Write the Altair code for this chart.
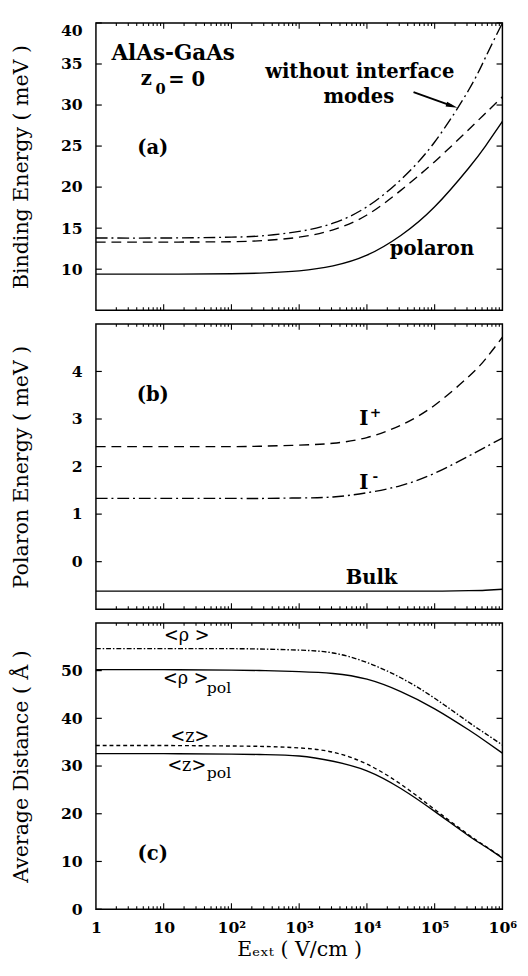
import altair as alt
import pandas as pd

FONT = "DejaVu Serif"
W = 416
H_A, H_B, H_C = 294, 292, 293

# ---------------- data ----------------
E_GRID = [1, 10, 100, 316.2, 1000, 3162, 10000, 31620, 100000, 316200, 562300, 1000000]

# panel (a) binding energy (meV)
A_POLARON = [9.4, 9.4, 9.45, 9.55, 9.8, 10.4, 11.7, 14.1, 17.6, 22.3, 25.0, 28.0]
A_DASHED = [13.3, 13.3, 13.35, 13.5, 13.9, 14.8, 16.6, 19.6, 23.1, 27.0, 29.0, 31.0]
A_DASHDOT = [13.8, 13.8, 13.9, 14.1, 14.6, 15.6, 17.6, 20.9, 25.5, 31.8, 35.8, 40.0]

# panel (b) polaron energy (meV)
B_IPLUS = [2.42, 2.42, 2.42, 2.43, 2.45, 2.49, 2.61, 2.87, 3.29, 3.89, 4.26, 4.72]
B_IMINUS = [1.33, 1.33, 1.33, 1.33, 1.34, 1.36, 1.45, 1.60, 1.86, 2.22, 2.41, 2.60]
B_BULK = [-0.62, -0.62, -0.62, -0.62, -0.62, -0.62, -0.62, -0.62, -0.62, -0.61, -0.60, -0.58]

# panel (c) average distance (A)
C_RHO = [54.6, 54.6, 54.6, 54.5, 54.3, 53.7, 51.7, 48.5, 44.2, 39.2, 36.8, 34.4]
C_RHO_POL = [50.2, 50.2, 50.1, 50.0, 49.8, 49.4, 48.2, 45.6, 42.0, 37.6, 35.2, 32.7]
C_Z = [34.3, 34.3, 34.2, 34.1, 33.8, 32.9, 30.4, 26.2, 20.9, 15.6, 13.2, 10.8]
C_Z_POL = [32.6, 32.6, 32.5, 32.4, 32.1, 31.0, 29.0, 25.3, 20.5, 15.4, 13.1, 10.7]

X_TICKS = [1, 10, 100, 1000, 10000, 100000, 1000000]
X_TICK_LABELS = ["1", "10", "10²", "10³", "10⁴", "10⁵", "10⁶"]
X_MAJOR_INNER = [10, 100, 1000, 10000, 100000]
X_MINOR = [m * 10 ** k for k in range(6) for m in range(2, 10)]

A_YTICKS = [10, 15, 20, 25, 30, 35, 40]
B_YTICKS = [0, 1, 2, 3, 4]
C_YTICKS = [0, 10, 20, 30, 40, 50]

# line styles
SOLID = None
DASHED = [10, 6]
DASHDOT = [12, 4, 2, 4]
FINE_DASHDOT = [5, 2, 1.5, 2]
FINE_DASHED = [4, 3]

# annotations: label, E, value
ANN_A_BIG = [("without interface", 7840, 33.95), ("modes", 7590, 31.0),
             ("polaron", 91200, 12.4), ("(a)", 6.9, 24.8)]
ANN_A_TITLE = [("AlAs-GaAs", 13.8, 36.3)]
ANN_A_LEFT = [("z", 4.6, 33.1), ("= 0", 11.7, 33.0)]
ANN_A_SUB = [("0", 7.6, 31.9)]
ARROW_E = [48750, 179700]
ARROW_V = [31.58, 29.9]

ANN_B_BIG = [("(b)", 6.9, 3.5), ("I", 8960, 3.0), ("I", 8960, 1.66), ("Bulk", 11700, -0.35)]
ANN_B_SUP = [("+", 13340, 3.13), ("-", 13340, 1.77)]

ANN_C_BIG = [("(c)", 6.9, 11.6)]
ANN_C_MID = [("<ρ >", 21.9, 57.3), ("<ρ >", 21.2, 48.2), ("<z>", 24.3, 36.0), ("<z>", 21.9, 30.0)]
ANN_C_SUB = [("pol", 65.6, 46.3), ("pol", 65.6, 28.6)]


def ann_df(items):
    return pd.DataFrame({"label": [t[0] for t in items],
                         "E": [t[1] for t in items],
                         "v": [t[2] for t in items]})


label_expr = "[" + ",".join("'%s'" % s for s in X_TICK_LABELS) + "][round(log(datum.value)/LN10)]"


def make_panel(series, ydom, yticks, H, ytitle, flush, bottom, texts, extra=None):
    xscale = alt.Scale(type="log", domain=[1, 1000000])
    yscale = alt.Scale(domain=ydom, nice=False, zero=False)
    if bottom:
        xaxis = alt.Axis(values=X_TICKS, labelExpr=label_expr, ticks=False, domain=False,
                         grid=False, labelFlush=False, labelOverlap=False, labelFont=FONT,
                         labelFontSize=16, labelFontWeight="bold", labelPadding=11,
                         labelColor="black", title="Eₑₓₜ ( V/cm )", titleFont=FONT,
                         titleFontSize=21, titleFontWeight="normal", titlePadding=3,
                         titleColor="black")
    else:
        xaxis = None
    yaxis = alt.Axis(values=yticks, ticks=False, tickSize=0, domain=False, grid=False,
                     labelFont=FONT, labelFontSize=16, labelFontWeight="bold",
                     labelPadding=14, labelFlush=flush, labelOverlap=False,
                     labelColor="black", title=ytitle, titleFont=FONT, titleFontSize=21,
                     titleFontWeight="normal", titleX=-76, titleY=H / 2, titleAngle=270,
                     titleAlign="center", titleBaseline="middle", titleColor="black")
    x_enc = alt.X("E:Q", scale=xscale, axis=xaxis)
    y_enc = alt.Y("v:Q", scale=yscale, axis=yaxis)

    layers = []
    for vals, dash in series:
        d = pd.DataFrame({"E": E_GRID, "v": vals})
        kw = dict(color="black", strokeWidth=1.4, interpolate="natural")
        if dash is not None:
            kw["strokeDash"] = dash
        layers.append(alt.Chart(d).mark_line(**kw).encode(x=x_enc, y=y_enc))

    yt = pd.DataFrame({"v": yticks})
    layers.append(alt.Chart(yt).mark_rule(color="black", strokeWidth=1.2).encode(
        y=y_enc, x=alt.value(0), x2=alt.value(6)))
    layers.append(alt.Chart(yt).mark_rule(color="black", strokeWidth=1.2).encode(
        y=y_enc, x=alt.value(W - 6), x2=alt.value(W)))
    xmaj = pd.DataFrame({"E": X_MAJOR_INNER})
    xmin = pd.DataFrame({"E": X_MINOR})
    for d, L in ((xmaj, 6), (xmin, 3)):
        layers.append(alt.Chart(d).mark_rule(color="black", strokeWidth=1.1).encode(
            x=x_enc, y=alt.value(H), y2=alt.value(H - L)))
        layers.append(alt.Chart(d).mark_rule(color="black", strokeWidth=1.1).encode(
            x=x_enc, y=alt.value(0), y2=alt.value(L)))

    for items, size, weight, align in texts:
        layers.append(alt.Chart(ann_df(items)).mark_text(
            font=FONT, fontSize=size, fontWeight=weight, align=align, baseline="middle",
            color="black").encode(x=x_enc, y=y_enc, text="label:N"))

    if extra is not None:
        layers.extend(extra(x_enc, y_enc))

    return alt.layer(*layers).properties(width=W, height=H)


def arrow(x_enc, y_enc):
    d = pd.DataFrame({"E": ARROW_E, "v": ARROW_V})
    line = alt.Chart(d).mark_line(color="black", strokeWidth=2).encode(x=x_enc, y=y_enc)
    h = pd.DataFrame({"E": ARROW_E[-1:], "v": ARROW_V[-1:]})
    head = alt.Chart(h).mark_point(shape="M-1,-0.42L1,0L-1,0.42Z", filled=True, color="black",
                                   opacity=1, size=144, angle=18).encode(x=x_enc, y=y_enc)
    return [line, head]


pa = make_panel(
    [(A_POLARON, SOLID), (A_DASHED, DASHED), (A_DASHDOT, DASHDOT)],
    [5, 40], A_YTICKS, H_A, "Binding Energy ( meV )", True, False,
    [(ANN_A_BIG, 20, "bold", "center"), (ANN_A_TITLE, 22, "bold", "center"),
     (ANN_A_LEFT, 20, "bold", "left"), (ANN_A_SUB, 15, "bold", "left")],
    extra=arrow,
)

pb = make_panel(
    [(B_IPLUS, DASHED), (B_IMINUS, DASHDOT), (B_BULK, SOLID)],
    [-1, 5], B_YTICKS, H_B, "Polaron Energy ( meV )", False, False,
    [(ANN_B_BIG, 20, "bold", "center"), (ANN_B_SUP, 14, "bold", "center")],
)

pc = make_panel(
    [(C_RHO, FINE_DASHDOT), (C_RHO_POL, SOLID), (C_Z, FINE_DASHED), (C_Z_POL, SOLID)],
    [0, 60], C_YTICKS, H_C, "Average Distance ( Å )", False, True,
    [(ANN_C_BIG, 20, "bold", "center"), (ANN_C_MID, 18, "normal", "center"),
     (ANN_C_SUB, 16, "normal", "center")],
)

chart = alt.vconcat(pa, pb, pc, spacing=10).properties(
    padding={"left": 2, "top": 0, "right": 2, "bottom": 2}
).configure_view(stroke="black", strokeWidth=1.5)

chart.save("out.html", embed_options={"renderer": "svg", "actions": False})
